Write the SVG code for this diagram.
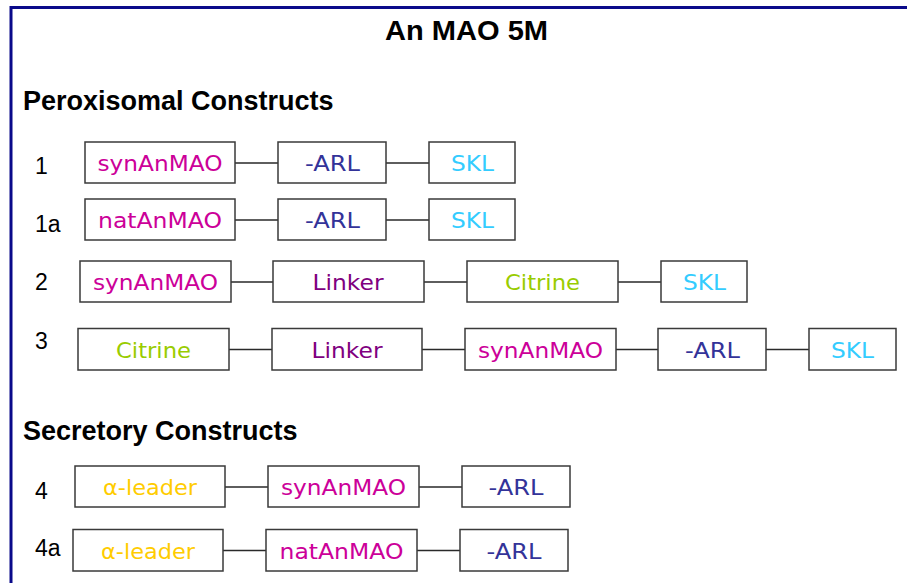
<svg xmlns="http://www.w3.org/2000/svg" width="907" height="583" viewBox="0 0 907 583">
  <style>
    .frame { stroke: #0a0a8a; stroke-width: 3; fill: none; }
    .title { font-family: "Liberation Sans", Arial, sans-serif; font-weight: bold; font-size: 27px; fill: #000; }
    .num { font-family: "Liberation Sans", Arial, sans-serif; font-size: 23px; fill: #000; }
    .box { fill: #fff; stroke: #3a3a3a; stroke-width: 1.5; }
    .lbl { font-family: "Comic Sans MS", "DejaVu Sans", sans-serif; font-size: 22px; text-anchor: middle; }
    .link { stroke: #2a2a2a; stroke-width: 1.7; fill: none; }
    .mao { fill: #cc0099; }
    .arl { fill: #333399; }
    .skl { fill: #33ccff; }
    .cit { fill: #99cc00; }
    .lnk { fill: #800080; }
    .lead { fill: #ffcc00; }
  </style>

  <!-- page frame -->
  <path class="frame" d="M11 583 V7.5 H907"/>

  <text class="title" x="466.5" y="39.5" text-anchor="middle" textLength="163" lengthAdjust="spacingAndGlyphs">An MAO 5M</text>
  <text class="title" x="23" y="110">Peroxisomal Constructs</text>
  <text class="title" x="23" y="439.5">Secretory Constructs</text>

  <!-- construct numbers -->
  <g id="numbers">
    <text class="num" x="35" y="173.5">1</text>
    <text class="num" x="35" y="232">1a</text>
    <text class="num" x="35" y="290">2</text>
    <text class="num" x="35" y="349">3</text>
    <text class="num" x="35" y="499">4</text>
    <text class="num" x="35" y="555.5">4a</text>
  </g>

  <!-- connectors -->
  <g id="connectors">
    <path class="link" d="M235 163 H278 M386 163 H429"/>
    <path class="link" d="M235 220 H278 M386 220 H429"/>
    <path class="link" d="M231 282 H273 M424 282 H467 M618 282 H661"/>
    <path class="link" d="M229 349.5 H272 M422 349.5 H465 M616 349.5 H658 M766 349.5 H809"/>
    <path class="link" d="M225 487 H268 M419 487 H462"/>
    <path class="link" d="M223 550.5 H266 M417 550.5 H460"/>
  </g>

  <!-- construct 1 -->
  <g id="c1-synAnMAO"><rect class="box" x="85" y="142" width="150" height="41"/><text class="lbl mao" x="160" y="171" textLength="125" lengthAdjust="spacingAndGlyphs">synAnMAO</text></g>
  <g id="c1-ARL"><rect class="box" x="278" y="142" width="108" height="41"/><text class="lbl arl" x="332.5" y="171" textLength="55" lengthAdjust="spacingAndGlyphs">-ARL</text></g>
  <g id="c1-SKL"><rect class="box" x="429" y="142" width="86" height="41"/><text class="lbl skl" x="472.5" y="171" textLength="43" lengthAdjust="spacingAndGlyphs">SKL</text></g>

  <!-- construct 1a -->
  <g id="c1a-natAnMAO"><rect class="box" x="85" y="199" width="150" height="41"/><text class="lbl mao" x="160" y="228" textLength="124" lengthAdjust="spacingAndGlyphs">natAnMAO</text></g>
  <g id="c1a-ARL"><rect class="box" x="278" y="199" width="108" height="41"/><text class="lbl arl" x="332.5" y="228" textLength="55" lengthAdjust="spacingAndGlyphs">-ARL</text></g>
  <g id="c1a-SKL"><rect class="box" x="429" y="199" width="86" height="41"/><text class="lbl skl" x="472.5" y="228" textLength="43" lengthAdjust="spacingAndGlyphs">SKL</text></g>

  <!-- construct 2 -->
  <g id="c2-synAnMAO"><rect class="box" x="80" y="261" width="151" height="41"/><text class="lbl mao" x="155.5" y="290" textLength="125" lengthAdjust="spacingAndGlyphs">synAnMAO</text></g>
  <g id="c2-Linker"><rect class="box" x="273" y="261" width="151" height="41"/><text class="lbl lnk" x="348" y="290" textLength="71" lengthAdjust="spacingAndGlyphs">Linker</text></g>
  <g id="c2-Citrine"><rect class="box" x="467" y="261" width="151" height="41"/><text class="lbl cit" x="542.5" y="290" textLength="75" lengthAdjust="spacingAndGlyphs">Citrine</text></g>
  <g id="c2-SKL"><rect class="box" x="661" y="261" width="86" height="41"/><text class="lbl skl" x="704.5" y="290" textLength="43" lengthAdjust="spacingAndGlyphs">SKL</text></g>

  <!-- construct 3 -->
  <g id="c3-Citrine"><rect class="box" x="78" y="328.5" width="151" height="41.5"/><text class="lbl cit" x="153.5" y="357.5" textLength="75" lengthAdjust="spacingAndGlyphs">Citrine</text></g>
  <g id="c3-Linker"><rect class="box" x="272" y="328.5" width="150" height="41.5"/><text class="lbl lnk" x="347" y="357.5" textLength="71" lengthAdjust="spacingAndGlyphs">Linker</text></g>
  <g id="c3-synAnMAO"><rect class="box" x="465" y="328.5" width="151" height="41.5"/><text class="lbl mao" x="540.5" y="357.5" textLength="125" lengthAdjust="spacingAndGlyphs">synAnMAO</text></g>
  <g id="c3-ARL"><rect class="box" x="658" y="328.5" width="108" height="41.5"/><text class="lbl arl" x="712.5" y="357.5" textLength="55" lengthAdjust="spacingAndGlyphs">-ARL</text></g>
  <g id="c3-SKL"><rect class="box" x="809" y="328.5" width="87" height="41.5"/><text class="lbl skl" x="852.5" y="357.5" textLength="43" lengthAdjust="spacingAndGlyphs">SKL</text></g>

  <!-- construct 4 -->
  <g id="c4-leader"><rect class="box" x="75" y="466" width="150" height="41"/><text class="lbl lead" x="150" y="495" textLength="94" lengthAdjust="spacingAndGlyphs">α-leader</text></g>
  <g id="c4-synAnMAO"><rect class="box" x="268" y="466" width="151" height="41"/><text class="lbl mao" x="343.5" y="495" textLength="125" lengthAdjust="spacingAndGlyphs">synAnMAO</text></g>
  <g id="c4-ARL"><rect class="box" x="462" y="466" width="108" height="41"/><text class="lbl arl" x="516" y="495" textLength="55" lengthAdjust="spacingAndGlyphs">-ARL</text></g>

  <!-- construct 4a -->
  <g id="c4a-leader"><rect class="box" x="73" y="529.5" width="150" height="41.5"/><text class="lbl lead" x="148" y="558.5" textLength="94" lengthAdjust="spacingAndGlyphs">α-leader</text></g>
  <g id="c4a-natAnMAO"><rect class="box" x="266" y="529.5" width="151" height="41.5"/><text class="lbl mao" x="341.5" y="558.5" textLength="124" lengthAdjust="spacingAndGlyphs">natAnMAO</text></g>
  <g id="c4a-ARL"><rect class="box" x="460" y="529.5" width="108" height="41.5"/><text class="lbl arl" x="514" y="558.5" textLength="55" lengthAdjust="spacingAndGlyphs">-ARL</text></g>
</svg>
